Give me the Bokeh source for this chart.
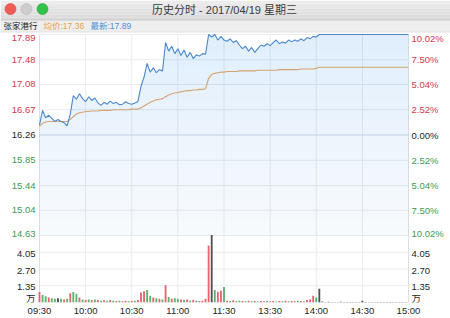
import numpy as np
from bokeh.plotting import figure
from bokeh.models import Range1d, FixedTicker, LinearAxis, ColumnDataSource
from bokeh.core.properties import value
from bokeh.embed import file_html
from bokeh.resources import INLINE

# ---------------- data ----------------
title_text = "历史分时 - 2017/04/19 星期三"
stock_name = "张家港行"
avg_text = "均价:17.36"
last_text = "最新:17.89"

prev_close = 16.26
price_ticks = [17.89, 17.48, 17.08, 16.67, 16.26, 15.85, 15.44, 15.04, 14.63]
price_labels = ["17.89", "17.48", "17.08", "16.67", "16.26", "15.85", "15.44", "15.04", "14.63"]
pct_labels = ["10.02%", "7.50%", "5.04%", "2.52%", "0.00%", "2.52%", "5.04%", "7.50%", "10.02%"]
label_side = ["up", "up", "up", "up", "flat", "down", "down", "down", "down"]

vol_max = 5.40
vol_ticks = [0, 1.35, 2.70, 4.05]
vol_labels = ["万", "1.35", "2.70", "4.05"]

time_ticks = [0, 30, 60, 90, 120, 150, 180, 210, 240]
time_labels = ["09:30", "10:00", "10:30", "11:00", "11:30", "13:30", "14:00", "14:30", "15:00"]

minutes = list(range(0, 241, 2))
price = [16.42, 16.66, 16.54, 16.58, 16.53, 16.48, 16.51, 16.48, 16.46, 16.41,
         16.60, 16.90, 16.84, 16.93, 16.85, 16.80, 16.88, 16.82, 16.86, 16.78,
         16.74, 16.79, 16.76, 16.81, 16.77, 16.79, 16.75, 16.76, 16.80, 16.77,
         16.76, 16.78, 16.80, 17.05, 17.20, 17.42, 17.28, 17.35, 17.27, 17.32,
         17.30, 17.76, 17.62, 17.70, 17.58, 17.66, 17.55, 17.64, 17.52, 17.60,
         17.50, 17.56, 17.54, 17.58, 17.57, 17.89, 17.85, 17.89, 17.80, 17.86,
         17.80, 17.78, 17.82, 17.76, 17.79, 17.72, 17.66, 17.70, 17.62, 17.68,
         17.60, 17.66, 17.72, 17.70, 17.74, 17.71, 17.76, 17.80, 17.74, 17.77,
         17.75, 17.80, 17.77, 17.80, 17.78, 17.82, 17.79, 17.84, 17.82, 17.86,
         17.85, 17.89, 17.89, 17.89, 17.89, 17.89, 17.89, 17.89, 17.89, 17.89,
         17.89, 17.89, 17.89, 17.89, 17.89, 17.89, 17.89, 17.89, 17.89, 17.89,
         17.89, 17.89, 17.89, 17.89, 17.89, 17.89, 17.89, 17.89, 17.89, 17.89,
         17.89]
avg_price = [16.40, 16.45, 16.47, 16.48, 16.48, 16.48, 16.48, 16.48, 16.48, 16.48,
             16.51, 16.56, 16.60, 16.62, 16.63, 16.64, 16.64, 16.65, 16.65, 16.65,
             16.66, 16.66, 16.66, 16.66, 16.67, 16.67, 16.67, 16.67, 16.67, 16.67,
             16.68, 16.68, 16.68, 16.70, 16.73, 16.76, 16.79, 16.81, 16.83, 16.84,
             16.85, 16.88, 16.91, 16.93, 16.94, 16.95, 16.96, 16.97, 16.98, 16.98,
             16.99, 16.99, 17.00, 17.00, 17.01, 17.18, 17.24, 17.26, 17.27, 17.28,
             17.28, 17.29, 17.29, 17.29, 17.29, 17.30, 17.30, 17.30, 17.30, 17.30,
             17.30, 17.31, 17.31, 17.31, 17.31, 17.31, 17.31, 17.31, 17.32, 17.32,
             17.32, 17.32, 17.32, 17.32, 17.32, 17.33, 17.33, 17.33, 17.33, 17.33,
             17.34, 17.36, 17.36, 17.36, 17.36, 17.36, 17.36, 17.36, 17.36, 17.36,
             17.36, 17.36, 17.36, 17.36, 17.36, 17.36, 17.36, 17.36, 17.36, 17.36,
             17.36, 17.36, 17.36, 17.36, 17.36, 17.36, 17.36, 17.36, 17.36, 17.36,
             17.36]

vol_minutes = list(range(0, 240, 2))
volume = [0.85, 0.60, 0.50, 0.40, 0.35, 0.30, 0.35, 0.30, 0.25, 0.30,
          0.75, 0.85, 0.70, 0.40, 0.25, 0.20, 0.25, 0.20, 0.25, 0.20,
          0.15, 0.18, 0.15, 0.20, 0.15, 0.12, 0.15, 0.10, 0.15, 0.10,
          0.12, 0.15, 0.20, 0.80, 0.90, 1.00, 0.55, 0.40, 0.35, 0.30,
          0.25, 1.40, 0.45, 0.30, 0.35, 0.30, 0.25, 0.20, 0.25, 0.15,
          0.20, 0.15, 0.12, 0.15, 0.30, 4.60, 5.45, 1.00, 0.87, 0.95,
          1.25, 0.15, 0.12, 0.18, 0.10, 0.15, 0.12, 0.10, 0.15, 0.10,
          0.12, 0.08, 0.12, 0.10, 0.15, 0.10, 0.12, 0.08, 0.12, 0.10,
          0.15, 0.10, 0.12, 0.10, 0.15, 0.12, 0.10, 0.20, 0.25, 0.55,
          0.40, 1.10, 0.08, 0.05, 0.06, 0.05, 0.04, 0.05, 0.06, 0.05,
          0.04, 0.05, 0.05, 0.04, 0.05, 0.15, 0.05, 0.04, 0.05, 0.04,
          0.05, 0.04, 0.05, 0.04, 0.04, 0.05, 0.04, 0.04, 0.05, 0.04]
vol_dir = ["r", "g", "g", "r", "g", "g", "d", "g", "r", "g",
           "r", "g", "g", "r", "g", "r", "g", "r", "g", "r",
           "g", "r", "g", "r", "g", "r", "g", "r", "r", "g",
           "r", "g", "r", "r", "r", "g", "g", "r", "g", "r",
           "g", "r", "g", "r", "g", "g", "r", "g", "r", "g",
           "r", "g", "r", "r", "r", "r", "d", "g", "r", "r",
           "g", "r", "g", "r", "g", "g", "r", "g", "r", "g",
           "r", "g", "r", "r", "g", "r", "r", "g", "r", "g",
           "r", "g", "r", "r", "g", "r", "g", "r", "r", "r",
           "g", "d", "d", "d", "d", "d", "d", "d", "d", "d",
           "d", "d", "d", "d", "d", "d", "d", "d", "d", "d",
           "d", "d", "d", "d", "d", "d", "d", "d", "d", "d"]

# ---------------- styles / layout constants ----------------
FONT = "'Liberation Sans', 'Noto Sans CJK SC', sans-serif"
RED = "#d8364a"
GREEN = "#3a9c4e"
BLACK = "#1e1e1e"
GRID = "#ebebeb"
EDGE = "#dedede"
side_color = {"up": RED, "flat": BLACK, "down": GREEN}
bar_color = {"r": "#e4646f", "g": "#58b46a", "d": "#505050"}

W, H = 450, 318
BOTTOM = 16                      # space for the time axis
FH = H - BOTTOM                  # frame height (frame covers the window above the axis)
PLOT_L, PLOT_R = 39, 408         # chart area, px from left
PRICE_TOP, PRICE_BOT, VOL_BOT = 34, 235, FH   # px from top

ppm = (PLOT_R - PLOT_L) / 240.0
kp = (price_ticks[0] - price_ticks[-1]) / (PRICE_BOT - PRICE_TOP)
kv = vol_max / (VOL_BOT - PRICE_BOT)

p = figure(width=W, height=H, x_range=Range1d(0, W), y_range=Range1d(FH, 0),
           min_border_left=0, min_border_right=0, min_border_top=0,
           min_border_bottom=BOTTOM, x_axis_type=None, y_axis_type=None,
           toolbar_location=None, output_backend="svg", outline_line_color=None,
           background_fill_color="white", border_fill_color="white")
p.extra_x_ranges = {"t": Range1d(-PLOT_L / ppm, 240 + (W - PLOT_R) / ppm)}
p.extra_y_ranges = {
    "p": Range1d(price_ticks[-1] - (FH - PRICE_BOT) * kp, price_ticks[0] + PRICE_TOP * kp),
    "v": Range1d(0, vol_max + PRICE_BOT * kv),
}

# ---------------- window chrome ----------------
bands = np.linspace(0, 19.5, 8)
shades = ["#ececec", "#e9e9e9", "#e6e6e6", "#e3e3e3", "#e0e0e0", "#dddddd", "#dadada"]
p.quad(left=0, right=W, top=bands[:-1], bottom=bands[1:], fill_color=shades, line_color=None)
p.quad(left=0, right=W, top=19.5, bottom=31.5, fill_color="#eeeeee", line_color=None)
p.segment(x0=0, y0=19.5, x1=W, y1=19.5, line_color="#c8c8c8", line_width=1)
p.segment(x0=0, y0=31.5, x1=W, y1=31.5, line_color="#e2e2e2", line_width=1)
p.scatter(x=[10, 26, 42], y=[8.5, 8.5, 8.5], size=11,
          fill_color=["#f05b54", "#cdcdcd", "#33c148"],
          line_color=["#d8483f", "#b9b9b9", "#25a83a"], line_width=0.6)
p.text(x=[224], y=[9.5], text=[title_text], text_font=value(FONT),
       text_font_size="11px", text_color="#3a3a3a", text_align="center",
       text_baseline="middle")
p.text(x=[3, 43, 90], y=[25.5, 25.5, 25.5], text=[stock_name, avg_text, last_text],
       text_font=value(FONT), text_font_size="8.5px",
       text_color=["#222222", "#e9a04a", "#4a8ed4"], text_baseline="middle")

# ---------------- grid lines ----------------
inner_t = time_ticks[1:-1]
edge_t = [time_ticks[0], time_ticks[-1]]
p.segment(x0=inner_t, y0=price_ticks[-1], x1=inner_t, y1=price_ticks[0],
          x_range_name="t", y_range_name="p", line_color=GRID, line_width=1)
p.segment(x0=inner_t, y0=0, x1=inner_t, y1=vol_max,
          x_range_name="t", y_range_name="v", line_color=GRID, line_width=1)
p.segment(x0=edge_t, y0=price_ticks[-1], x1=edge_t, y1=price_ticks[0],
          x_range_name="t", y_range_name="p", line_color=EDGE, line_width=1)
p.segment(x0=edge_t, y0=0, x1=edge_t, y1=vol_max,
          x_range_name="t", y_range_name="v", line_color=EDGE, line_width=1)
p.segment(x0=0, y0=price_ticks, x1=240, y1=price_ticks,
          x_range_name="t", y_range_name="p",
          line_color=["#cfd9e4" if v == prev_close else GRID for v in price_ticks], line_width=1)
p.segment(x0=0, y0=vol_ticks, x1=240, y1=vol_ticks,
          x_range_name="t", y_range_name="v", line_color=GRID, line_width=1)

# ---------------- price area ----------------
pr = np.array(price)
base = price_ticks[-1]
p.varea(x=minutes, y1=base, y2=pr, x_range_name="t", y_range_name="p",
        fill_color="#4a94dc", fill_alpha=0.045)
for lv in np.linspace(base, price_ticks[0], 13)[1:-1]:
    p.varea(x=minutes, y1=lv, y2=np.maximum(pr, lv), x_range_name="t", y_range_name="p",
            fill_color="#4a94dc", fill_alpha=0.013)
p.line(minutes, avg_price, x_range_name="t", y_range_name="p",
       line_color="#d4a472", line_width=1.1)
p.line(minutes, price, x_range_name="t", y_range_name="p",
       line_color="#4a87cb", line_width=1.1)

# ---------------- volume bars ----------------
p.vbar(x=vol_minutes, top=volume, bottom=0, width=1.2, x_range_name="t", y_range_name="v",
       fill_color=[bar_color[d] for d in vol_dir], line_color=None)

# ---------------- side labels ----------------
n = len(price_ticks)
dy = [0.0] * n
dy[0] = 3.5      # nudge first label down (screen px)
dy[-1] = -2.0    # nudge last label up
xl = -4 / ppm
xr = 240 + 3 / ppm
lab_src = ColumnDataSource(dict(
    xl=[xl] * n, xr=[xr] * n, y=price_ticks, left=price_labels, right=pct_labels,
    color=[side_color[s] for s in label_side], dy=dy))
p.text(x="xl", y="y", text="left", source=lab_src, x_range_name="t", y_range_name="p",
       text_color="color", y_offset="dy", text_align="right", text_baseline="middle",
       text_font=value(FONT), text_font_size="9.5px")
p.text(x="xr", y="y", text="right", source=lab_src, x_range_name="t", y_range_name="p",
       text_color="color", y_offset="dy", text_align="left", text_baseline="middle",
       text_font=value(FONT), text_font_size="9.5px")

m = len(vol_ticks)
vol_src = ColumnDataSource(dict(xl=[xl] * m, xr=[xr] * m, y=vol_ticks, text=vol_labels,
                                dy=[-4.0] + [1.5] * (m - 1)))
for xcol, align in (("xl", "right"), ("xr", "left")):
    p.text(x=xcol, y="y", text="text", source=vol_src, x_range_name="t", y_range_name="v",
           text_color=BLACK, y_offset="dy", text_align=align, text_baseline="middle",
           text_font=value(FONT), text_font_size="9.5px")

# ---------------- time axis ----------------
tax = LinearAxis(x_range_name="t", ticker=FixedTicker(ticks=time_ticks),
                 major_label_overrides={t: s for t, s in zip(time_ticks, time_labels)})
tax.axis_line_color = None
tax.major_tick_line_color = None
tax.minor_tick_line_color = None
tax.major_tick_out = 0
tax.major_tick_in = 0
tax.major_label_standoff = 2
tax.major_label_text_font = FONT
tax.major_label_text_font_size = "9.5px"
tax.major_label_text_color = BLACK
p.add_layout(tax, "below")

open("out.html", "w").write(file_html(p, INLINE))
